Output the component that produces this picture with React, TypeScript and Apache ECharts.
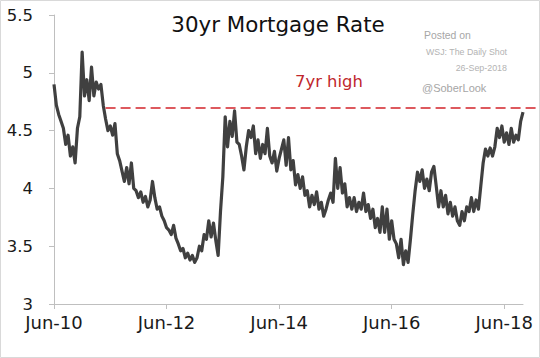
import React, { useEffect, useRef } from "react";
import * as echarts from "echarts";

// Semi-monthly observations (1st and 15th), Jun 2010 .. Sep 2018, plus 26-Sep-2018
const MONTHS = ["Jan", "Feb", "Mar", "Apr", "May", "Jun", "Jul", "Aug", "Sep", "Oct", "Nov", "Dec"];
const START_YEAR = 2010;
const START_MONTH = 6;
const N_MONTHS = 100;
const LAST_DATE = "2018-09-26";

function buildDates(): string[] {
  const out: string[] = [];
  for (let k = 0; k < N_MONTHS; k++) {
    const total = START_MONTH - 1 + k;
    const y = START_YEAR + Math.floor(total / 12);
    const m = (total % 12) + 1;
    const mm = m < 10 ? "0" + m : "" + m;
    out.push(`${y}-${mm}-01`);
    out.push(`${y}-${mm}-15`);
  }
  out.push(LAST_DATE);
  return out;
}
const DATES: string[] = buildDates();

const RATE_2010: number[] = [4.90, 4.72, 4.64, 4.58, 4.52, 4.38, 4.46, 4.28, 4.36, 4.22, 4.52, 4.62, 5.18, 4.80];
const RATE_2011: number[] = [4.94, 4.76, 5.05, 4.80, 4.92, 4.86, 4.90, 4.72, 4.60, 4.50, 4.54, 4.46, 4.56, 4.30, 4.24, 4.15, 4.06, 4.18, 4.04, 4.22, 4.00, 3.98, 3.92, 3.97];
const RATE_2012: number[] = [3.88, 3.93, 3.84, 3.90, 4.06, 3.92, 3.82, 3.84, 3.76, 3.72, 3.66, 3.64, 3.60, 3.68, 3.57, 3.52, 3.46, 3.48, 3.40, 3.44, 3.38, 3.42, 3.36, 3.40];
const RATE_2013: number[] = [3.50, 3.46, 3.60, 3.56, 3.72, 3.58, 3.70, 3.55, 3.42, 3.80, 4.10, 4.62, 4.36, 4.58, 4.45, 4.67, 4.40, 4.38, 4.28, 4.16, 4.36, 4.50, 4.44, 4.54];
const RATE_2014: number[] = [4.30, 4.42, 4.26, 4.38, 4.30, 4.52, 4.28, 4.22, 4.32, 4.15, 4.26, 4.34, 4.42, 4.20, 4.44, 4.16, 4.24, 4.03, 4.12, 4.00, 4.10, 3.94, 3.98, 3.84];
const RATE_2015: number[] = [3.94, 3.86, 3.97, 3.82, 3.88, 3.76, 3.82, 3.90, 3.96, 3.88, 4.26, 4.00, 4.18, 3.96, 4.04, 3.84, 3.92, 3.82, 3.92, 3.80, 3.88, 3.82, 3.96, 3.80];
const RATE_2016: number[] = [3.86, 3.74, 3.82, 3.66, 3.74, 3.62, 3.84, 3.62, 3.82, 3.56, 3.72, 3.56, 3.52, 3.40, 3.56, 3.34, 3.46, 3.36, 3.56, 3.78, 3.98, 4.14, 4.06, 4.16];
const RATE_2017: number[] = [4.00, 4.08, 3.98, 4.14, 4.19, 4.02, 3.84, 3.98, 3.84, 3.94, 3.78, 3.88, 3.76, 3.84, 3.72, 3.68, 3.80, 3.72, 3.84, 3.80, 3.92, 3.80, 3.90, 3.82];
const RATE_2018: number[] = [4.02, 4.22, 4.34, 4.28, 4.35, 4.28, 4.36, 4.52, 4.44, 4.54, 4.40, 4.48, 4.38, 4.52, 4.40, 4.46, 4.42, 4.58, 4.66];

const RATES: number[] = [
  ...RATE_2010, ...RATE_2011, ...RATE_2012, ...RATE_2013, ...RATE_2014,
  ...RATE_2015, ...RATE_2016, ...RATE_2017, ...RATE_2018,
];

const Y_TICKS = { min: 3, max: 5.5, interval: 0.5 };
const HIGH_VALUE = 4.7;
const HIGH_START_DATE = "2011-05-01";

const TITLE = "30yr Mortgage Rate";
const HIGH_LABEL = "7yr high";
const POSTED = "Posted on";
const SOURCE = "WSJ: The Daily Shot";
const POST_DATE = "26-Sep-2018";
const HANDLE = "@SoberLook";

function isLabelDate(value: string): boolean {
  return value.endsWith("-06-01") && parseInt(value.slice(0, 4), 10) % 2 === 0;
}
function fmtDate(value: string): string {
  const [y, m] = value.split("-");
  return `${MONTHS[parseInt(m, 10) - 1]}-${y.slice(2)}`;
}

export default function App() {
  const ref = useRef<HTMLDivElement>(null);
  useEffect(() => {
    if (!ref.current) return;
    const chart = echarts.init(ref.current, undefined, { renderer: "svg" });
    const axisGray = "#bfbfbf";
    const labelFont = "DejaVu Sans";
    chart.setOption({
      animation: false,
      backgroundColor: "#ffffff",
      grid: { left: 54, right: 17, top: 15, bottom: 54, containLabel: false },
      xAxis: {
        type: "category",
        data: DATES,
        boundaryGap: false,
        axisLine: { show: true, lineStyle: { color: axisGray, width: 1 } },
        axisTick: {
          show: true,
          length: 5,
          interval: (_i: number, v: string) => isLabelDate(v),
          lineStyle: { color: axisGray },
        },
        axisLabel: {
          interval: (_i: number, v: string) => isLabelDate(v),
          formatter: (v: string) => fmtDate(v),
          color: "#1a1a1a",
          fontFamily: labelFont,
          fontSize: 18,
          margin: 9,
        },
        splitLine: { show: false },
      },
      yAxis: {
        type: "value",
        min: Y_TICKS.min,
        max: Y_TICKS.max,
        interval: Y_TICKS.interval,
        axisLine: { show: true, lineStyle: { color: axisGray, width: 1 } },
        axisTick: { show: true, length: 5, lineStyle: { color: axisGray } },
        axisLabel: {
          color: "#1a1a1a",
          fontFamily: labelFont,
          fontSize: 16.5,
          margin: 21,
        },
        splitLine: { show: false },
      },
      series: [
        {
          type: "line",
          data: RATES,
          showSymbol: false,
          symbol: "none",
          clip: false,
          lineStyle: { color: "#404040", width: 3.2, join: "round" },
          itemStyle: { color: "#404040" },
          markLine: {
            silent: true,
            symbol: ["none", "none"],
            label: { show: false },
            lineStyle: { color: "#d2232a", type: [10, 5], width: 1.6 },
            data: [
              [
                { coord: [HIGH_START_DATE, HIGH_VALUE] },
                { coord: [LAST_DATE, HIGH_VALUE], x: "100%" },
              ],
            ],
          },
        },
      ],
      graphic: [
        {
          type: "rect",
          shape: { x: 0.5, y: 0.5, width: 539, height: 357 },
          style: { fill: "none", stroke: "#d9d9d9", lineWidth: 1 },
          silent: true,
        },
        {
          type: "text",
          x: 278,
          y: 24,
          style: {
            text: TITLE,
            fill: "#111111",
            font: `21.4px "${labelFont}"`,
            textAlign: "center",
            textVerticalAlign: "middle",
          },
        },
        {
          type: "text",
          x: 295,
          y: 81,
          style: {
            text: HIGH_LABEL,
            fill: "#c0272d",
            font: `16.4px "${labelFont}"`,
            textAlign: "left",
            textVerticalAlign: "middle",
          },
        },
        {
          type: "text",
          x: 424,
          y: 35,
          style: {
            text: POSTED,
            fill: "#a6a6a6",
            font: `10.4px "Liberation Sans"`,
            textAlign: "left",
            textVerticalAlign: "middle",
          },
        },
        {
          type: "text",
          x: 507,
          y: 51.5,
          style: {
            text: SOURCE,
            fill: "#b3b3b3",
            font: `8.8px "Liberation Sans"`,
            textAlign: "right",
            textVerticalAlign: "middle",
          },
        },
        {
          type: "text",
          x: 507,
          y: 67.5,
          style: {
            text: POST_DATE,
            fill: "#b3b3b3",
            font: `8.9px "Liberation Sans"`,
            textAlign: "right",
            textVerticalAlign: "middle",
          },
        },
        {
          type: "text",
          x: 422,
          y: 87.5,
          style: {
            text: HANDLE,
            fill: "#a6a6a6",
            font: `11px "Liberation Sans"`,
            textAlign: "left",
            textVerticalAlign: "middle",
          },
        },
      ],
    });
    return () => chart.dispose();
  }, []);
  return (
    <div
      ref={ref}
      style={{ position: "fixed", left: 0, top: 0, width: 540, height: 358, background: "#fff" }}
    />
  );
}
